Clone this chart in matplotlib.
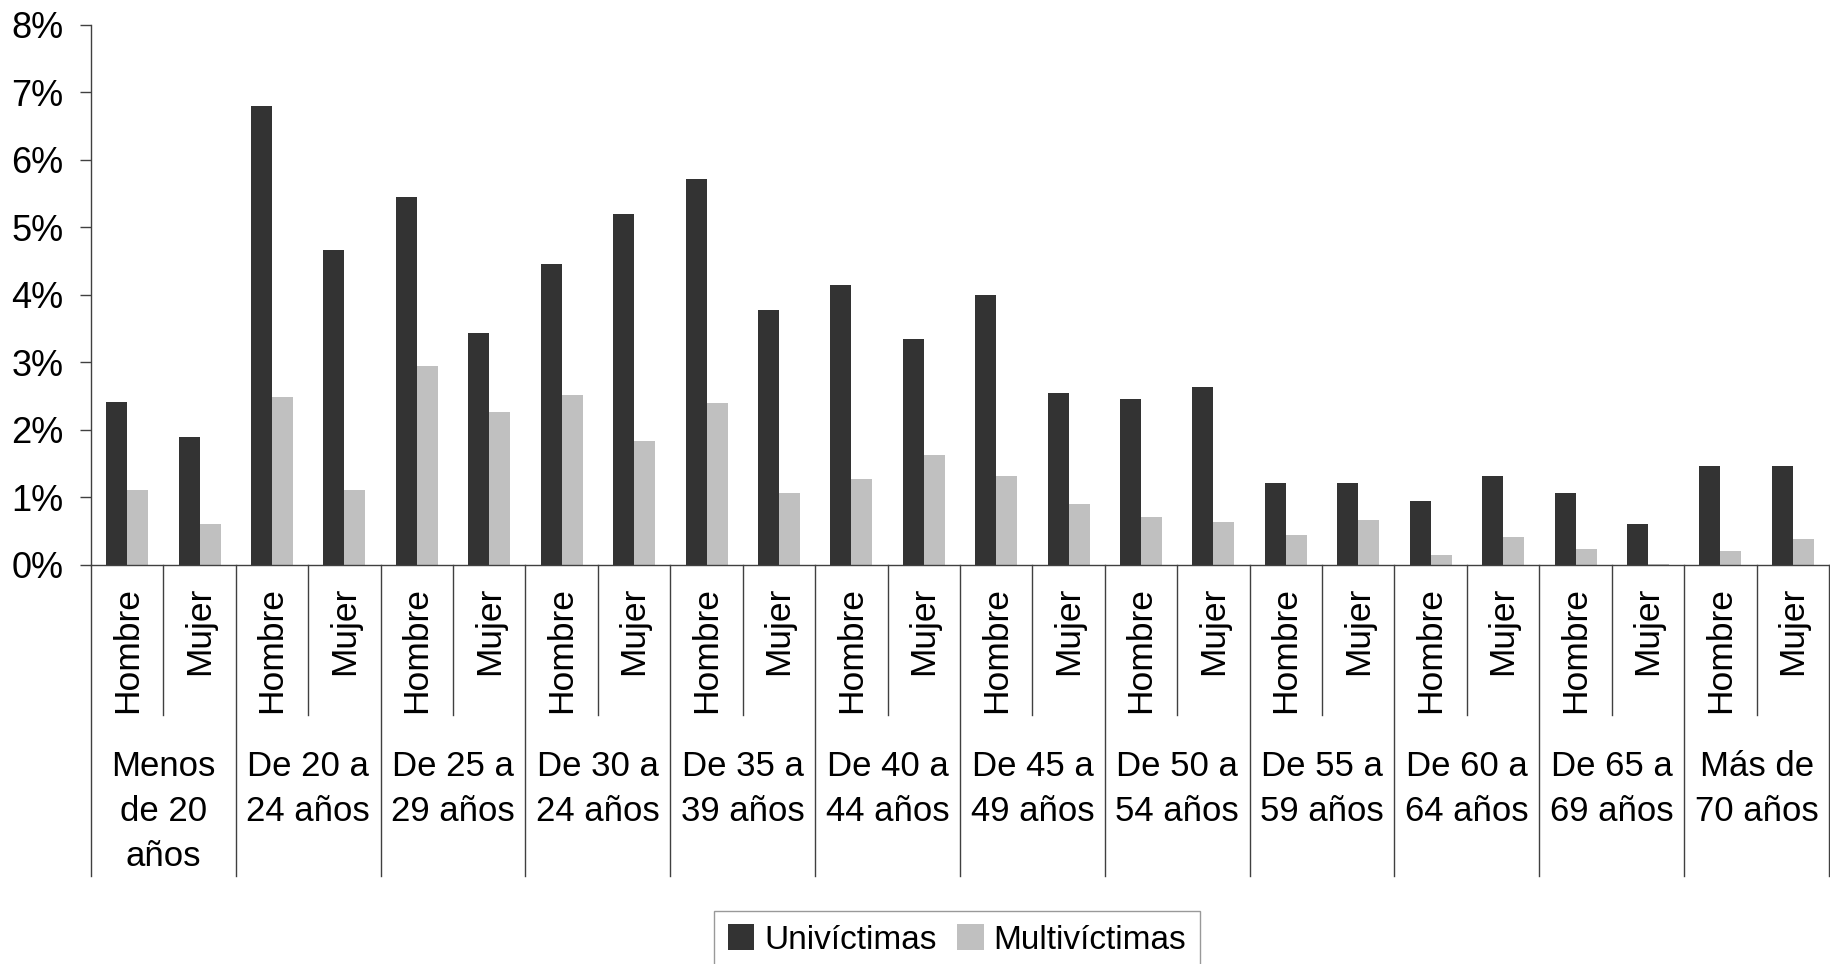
import numpy as np
import matplotlib.pyplot as plt
from matplotlib.patches import Patch

plt.rcParams['font.family'] = ['Liberation Sans', 'DejaVu Sans']

# grupos de edad y sexo
grupos = ["Menos\nde 20\naños", "De 20 a\n24 años", "De 25 a\n29 años", "De 30 a\n24 años",
          "De 35 a\n39 años", "De 40 a\n44 años", "De 45 a\n49 años", "De 50 a\n54 años",
          "De 55 a\n59 años", "De 60 a\n64 años", "De 65 a\n69 años", "Más de\n70 años"]
sexos = ["Hombre", "Mujer"]

# porcentajes (Hombre, Mujer alternados)
univictimas = [2.41, 1.90, 6.80, 4.66, 5.44, 3.43, 4.45, 5.19, 5.72, 3.78, 4.14, 3.35,
               3.99, 2.55, 2.45, 2.63, 1.22, 1.22, 0.94, 1.32, 1.07, 0.61, 1.46, 1.46]
multivictimas = [1.11, 0.60, 2.49, 1.11, 2.94, 2.27, 2.52, 1.84, 2.40, 1.07, 1.28, 1.63,
                 1.32, 0.91, 0.71, 0.64, 0.45, 0.67, 0.15, 0.41, 0.23, 0.02, 0.20, 0.38]
yticks = [0, 1, 2, 3, 4, 5, 6, 7, 8]

W, H = 1831, 964
fig = plt.figure(figsize=(W / 100, H / 100), dpi=100)
ax = fig.add_axes([91 / W, 1 - 565 / H, (1829 - 91) / W, (565 - 24.5) / H])

n = len(univictimas)
x = np.arange(n)
w = 0.29
ax.bar(x - w / 2, univictimas, width=w, color="#333333", label="Univíctimas")
ax.bar(x + w / 2, multivictimas, width=w, color="#c0c0c0", label="Multivíctimas")

ax.set_xlim(-0.5, n - 0.5)
ax.set_ylim(0, 8)
ax.set_yticks(yticks)
ax.set_yticklabels([f"{v}%" for v in yticks], fontsize=26)
ax.tick_params(axis="y", length=8, width=1, pad=12, color="#404040")
ax.set_xticks([])
for s in ["top", "right"]:
    ax.spines[s].set_visible(False)
for s in ["left", "bottom"]:
    ax.spines[s].set_color("#404040")
    ax.spines[s].set_linewidth(1)

tr = ax.get_xaxis_transform()
axh = 565 - 24.5
# separadores
for i in range(n + 1):
    xb = i - 0.5
    if i % 2 == 0:
        y_end = -(876 - 565) / axh
    else:
        y_end = -(715 - 565) / axh
    ax.plot([xb, xb], [0, y_end], color="#404040", lw=1, transform=tr, clip_on=False)

# etiquetas de sexo
for i in range(n):
    ax.text(i, -(587 - 565) / axh, sexos[i % 2], rotation=90, ha="center", va="top",
            fontsize=25.5, transform=tr)

# etiquetas de grupo
for g, lab in enumerate(grupos):
    ax.text(2 * g + 0.5, -(750 - 565) / axh, lab, ha="center", va="top", fontsize=25,
            linespacing=1.47, transform=tr, multialignment="center")

handles = [Patch(facecolor="#333333"), Patch(facecolor="#c0c0c0")]
leg = fig.legend(handles, ["Univíctimas", "Multivíctimas"], loc="center",
                 bbox_to_anchor=(957 / W, 1 - 940 / H), ncol=2, fontsize=24, frameon=True,
                 fancybox=False, edgecolor="#808080", handlelength=0.8, handleheight=0.8,
                 handletextpad=0.3, columnspacing=0.6, borderpad=0.4)
leg.get_frame().set_linewidth(1)

fig.savefig("out.png", dpi=100)
